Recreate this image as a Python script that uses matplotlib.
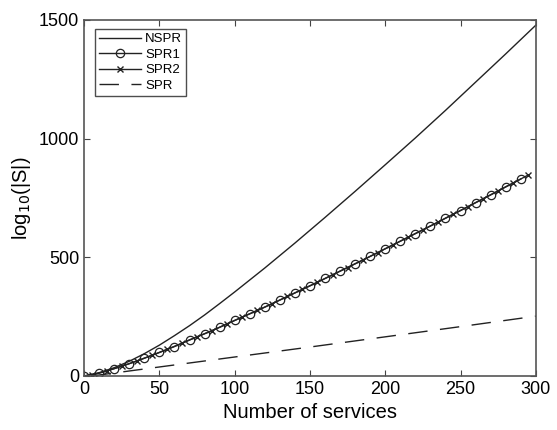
import matplotlib
matplotlib.use("Agg")
import matplotlib.pyplot as plt

plt.rcParams['font.family'] = ['Liberation Sans', 'DejaVu Sans']

# NSPR (solid curve)
nspr_x = [0, 10, 20, 30, 40, 50, 60, 70, 80, 90, 100, 120, 140, 160, 180, 200, 220, 240, 260, 280, 300]
nspr_y = [0, 14, 35, 62, 94, 130, 170, 212, 257, 305, 354, 455, 560, 668, 778, 890, 1003, 1119, 1238, 1357, 1478]

# SPR1 (circles) and SPR2 (crosses)
spr1_x = [0, 10, 20, 30, 40, 50, 60, 70, 80, 90, 100, 110, 120, 130, 140, 150, 160, 170, 180, 190,
          200, 210, 220, 230, 240, 250, 260, 270, 280, 290]
spr1_y = [0, 12, 31, 52, 75, 99, 124, 152, 178, 205, 234, 262, 290, 320, 350, 380, 411, 442, 473, 504,
          536, 568, 600, 632, 665, 697, 730, 763, 797, 830]
spr2_x = [5, 15, 25, 35, 45, 55, 65, 75, 85, 95, 105, 115, 125, 135, 145, 155, 165, 175, 185, 195,
          205, 215, 225, 235, 245, 255, 265, 275, 285, 295]
spr2_y = [4, 21, 41, 63, 87, 112, 138, 165, 191, 220, 248, 276, 305, 335, 365, 395, 426, 457, 488, 520,
          552, 584, 616, 648, 681, 714, 747, 780, 813, 847]

# SPR (dashed)
spr_x = [5, 50, 100, 150, 200, 250, 300]
spr_y = [0, 38, 80, 122, 165, 208, 252]

fig = plt.figure(figsize=(5.57, 4.30), dpi=100)
ax = fig.add_axes([0.151, 0.1256, 0.811, 0.828])

ax.plot(nspr_x, nspr_y, color='#222222', lw=1.0, label='NSPR')
ax.plot(spr1_x, spr1_y, color='#222222', lw=1.0, marker='o', ms=6, mfc='none', mew=0.9, label='SPR1')
ax.plot(spr2_x, spr2_y, color='#222222', lw=1.0, marker='x', ms=4.5, mew=1.0, label='SPR2')
ax.plot(spr_x, spr_y, color='#222222', lw=1.0, dashes=(14, 9), label='SPR')

ax.set_xlim(0, 300)
ax.set_ylim(0, 1500)
ax.set_xticks([0, 50, 100, 150, 200, 250, 300])
ax.set_yticks([0, 500, 1000, 1500])
ax.tick_params(direction='in', top=True, right=True, labelsize=13, length=4, color='#444444')
for s in ax.spines.values():
    s.set_color('#555555')
    s.set_linewidth(1.2)

ax.set_xlabel('Number of services', fontsize=14.5)
ax.set_ylabel(r'log$_{10}$(|S|)', fontsize=14.5)

leg = ax.legend(loc='upper left', fontsize=9.5, frameon=True, fancybox=False, edgecolor='#222222',
                handlelength=3.2, borderpad=0.3, labelspacing=0.25, handletextpad=0.3,
                bbox_to_anchor=(0.01, 0.993))
leg.get_frame().set_linewidth(1.0)

fig.savefig('out.png', dpi=100)
